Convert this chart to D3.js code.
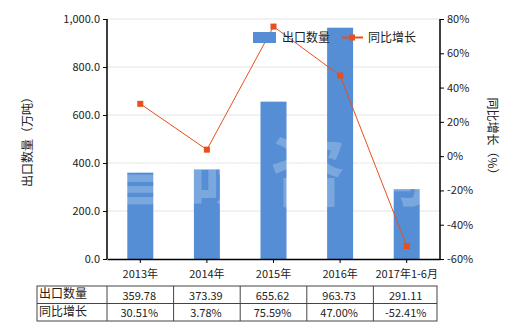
<!DOCTYPE html>
<html>
<head>
<meta charset="utf-8">
<script src="https://cdn.jsdelivr.net/npm/d3@7"></script>
<style>
  body { margin: 0; background: #fff; }
  text { font-family: "Noto Sans CJK SC", "Noto Sans", sans-serif; fill: #222; }
</style>
</head>
<body>
<script>
var categories = ["2013年", "2014年", "2015年", "2016年", "2017年1-6月"];
var volume = [359.78, 373.39, 655.62, 963.73, 291.11];
var growth = [30.51, 3.78, 75.59, 47.00, -52.41];
var volumeLabels = ["359.78", "373.39", "655.62", "963.73", "291.11"];
var growthLabels = ["30.51%", "3.78%", "75.59%", "47.00%", "-52.41%"];
var leftTicks = [0, 200, 400, 600, 800, 1000];
var rightTicks = [-60, -40, -20, 0, 20, 40, 60, 80];

var W = 520, H = 330;
var plot = { left: 107, right: 440, top: 19, bottom: 259 };

var svg = d3.select("body").append("svg")
    .attr("width", W)
    .attr("height", H);

var xc = d3.scaleBand().domain(categories).range([plot.left, plot.right]);
var y = d3.scaleLinear().domain([0, 1000]).range([plot.bottom, plot.top]);
var y2 = d3.scaleLinear().domain([-60, 80]).range([plot.bottom, plot.top]);

// gridlines
svg.append("g")
    .selectAll("line")
    .data(leftTicks.slice(1))
    .enter().append("line")
    .attr("x1", plot.left).attr("x2", plot.right)
    .attr("y1", function (d) { return y(d); })
    .attr("y2", function (d) { return y(d); })
    .attr("stroke", "#e3e3e3");

// bars
svg.append("g")
    .selectAll("rect")
    .data(volume)
    .enter().append("rect")
    .attr("x", function (d, i) { return xc(categories[i]) + xc.bandwidth() / 2 - 13; })
    .attr("width", 26)
    .attr("y", function (d) { return y(d); })
    .attr("height", function (d) { return plot.bottom - y(d); })
    .attr("fill", "#558ed5");

// faint watermark
svg.append("text")
    .attr("x", 270).attr("y", 200)
    .attr("text-anchor", "middle")
    .style("font-size", "76px")
    .style("font-weight", "bold")
    .style("fill", "#fff")
    .style("opacity", 0.22)
    .style("letter-spacing", "8px")
    .text("智研咨询");

// axes
var axisL = d3.axisLeft(y).tickValues(leftTicks).tickSize(4).tickFormat(d3.format(",.1f"));
var gL = svg.append("g").attr("transform", "translate(" + plot.left + ",0)").call(axisL);

var axisR = d3.axisRight(y2).tickValues(rightTicks).tickSize(4).tickFormat(function (d) { return d + "%"; });
var gR = svg.append("g").attr("transform", "translate(" + plot.right + ",0)").call(axisR);

var axisB = d3.axisBottom(xc).tickSize(4).tickSizeOuter(0);
var gB = svg.append("g").attr("transform", "translate(0," + plot.bottom + ")").call(axisB);

[gL, gR, gB].forEach(function (g) {
    g.select(".domain").attr("stroke", "#000").attr("stroke-width", 1.5);
    g.selectAll(".tick line").attr("stroke", "#000");
    g.selectAll("text").style("font-size", "11px").style("fill", "#222")
        .style("font-family", "'Noto Sans CJK SC', sans-serif");
});
gL.select(".domain").attr("d", "M0," + plot.top + "V" + plot.bottom);
gR.select(".domain").attr("d", "M0," + plot.top + "V" + plot.bottom);
gB.selectAll("text").attr("dy", "1.1em");

// axis titles
svg.append("text")
    .attr("transform", "translate(32," + ((plot.top + plot.bottom) / 2) + ") rotate(-90)")
    .attr("text-anchor", "middle")
    .style("font-size", "12px")
    .text("出口数量（万吨）");
svg.append("text")
    .attr("transform", "translate(488," + ((plot.top + plot.bottom) / 2) + ") rotate(90)")
    .attr("text-anchor", "middle")
    .style("font-size", "12px")
    .text("同比增长（%）");

// line
var line = d3.line()
    .x(function (d, i) { return xc(categories[i]) + xc.bandwidth() / 2; })
    .y(function (d) { return y2(d); });

svg.append("path")
    .datum(growth)
    .attr("d", line)
    .attr("fill", "none")
    .attr("stroke", "#e8501a")
    .attr("stroke-width", 1);

svg.append("g")
    .selectAll("rect")
    .data(growth)
    .enter().append("rect")
    .attr("x", function (d, i) { return xc(categories[i]) + xc.bandwidth() / 2 - 3; })
    .attr("y", function (d) { return y2(d) - 3; })
    .attr("width", 6).attr("height", 6)
    .attr("fill", "#e8501a");

// legend
var lg = svg.append("g");
lg.append("rect").attr("x", 253).attr("y", 32).attr("width", 23).attr("height", 11).attr("fill", "#558ed5");
lg.append("text").attr("x", 282).attr("y", 42).style("font-size", "12px").text("出口数量");
lg.append("line").attr("x1", 342).attr("x2", 363).attr("y1", 37.5).attr("y2", 37.5)
    .attr("stroke", "#e8501a").attr("stroke-width", 2);
lg.append("rect").attr("x", 349).attr("y", 34.5).attr("width", 6).attr("height", 6).attr("fill", "#e8501a");
lg.append("text").attr("x", 368).attr("y", 42).style("font-size", "12px").text("同比增长");

// data table
var tTop = 286, rowH = 17.5, tLeft = 37;
var rows = [["出口数量", volumeLabels], ["同比增长", growthLabels]];
var tg = svg.append("g");
tg.append("rect")
    .attr("x", tLeft).attr("y", tTop)
    .attr("width", plot.right - 3 - tLeft).attr("height", rowH * 2)
    .attr("fill", "none").attr("stroke", "#444");
tg.append("line").attr("x1", tLeft).attr("x2", plot.right - 3)
    .attr("y1", tTop + rowH).attr("y2", tTop + rowH).attr("stroke", "#444");
tg.selectAll("line.col")
    .data(categories)
    .enter().append("line")
    .attr("class", "col")
    .attr("x1", function (d) { return xc(d); })
    .attr("x2", function (d) { return xc(d); })
    .attr("y1", tTop).attr("y2", tTop + rowH * 2)
    .attr("stroke", "#444");
rows.forEach(function (r, ri) {
    tg.append("text")
        .attr("x", tLeft + 2).attr("y", tTop + rowH * ri + 12)
        .style("font-size", "12px")
        .text(r[0]);
    tg.selectAll("text.v" + ri)
        .data(r[1])
        .enter().append("text")
        .attr("class", "v" + ri)
        .attr("x", function (d, i) { return xc(categories[i]) + xc.bandwidth() / 2 - 1; })
        .attr("y", tTop + rowH * ri + 13.5)
        .attr("text-anchor", "middle")
        .style("font-size", "11px")
        .text(function (d) { return d; });
});
</script>
</body>
</html>
